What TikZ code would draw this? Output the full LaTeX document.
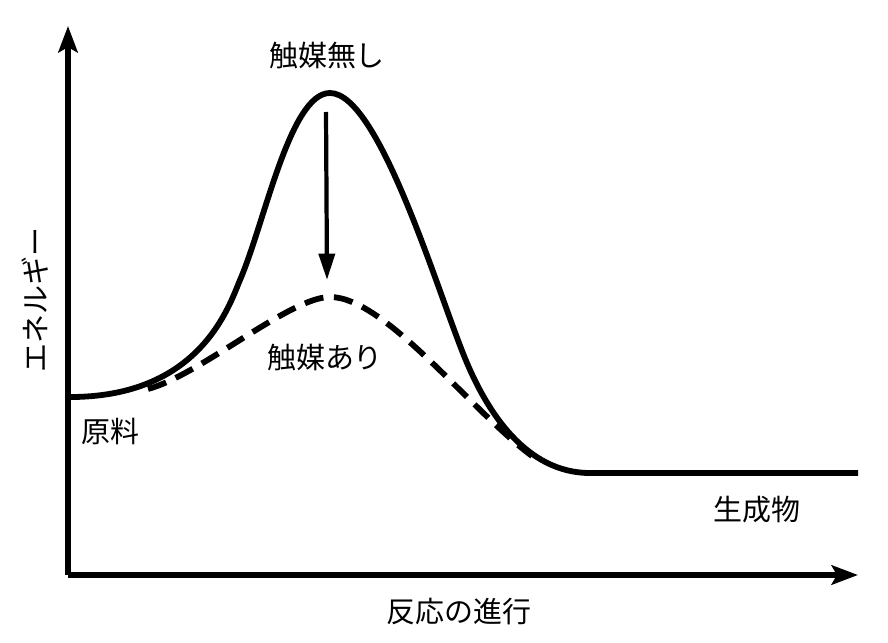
\documentclass[tikz,border=0pt]{standalone}
\usepackage{fontspec}
\setmainfont{Noto Sans CJK JP}
\usepackage{tikz}
\usetikzlibrary{positioning,calc,arrows.meta}

\begin{document}
\begin{tikzpicture}[x=0.02cm, y=-0.02cm,
        axis/.style={line width=3.2pt, -{Stealth[length=15pt, width=11pt, inset=3pt]}},
        curve/.style={line width=3.3pt},
        catcurve/.style={line width=3.3pt, dash pattern=on 11pt off 6pt},
        drop/.style={line width=2.4pt, -{Triangle[length=15pt, width=9pt]}},
        lbl/.style={font=\fontsize{16.5pt}{18pt}\selectfont, inner sep=0pt}]
    \useasboundingbox (0,0) rectangle (888,642);
    \coordinate (O) at (68,575);
    \coordinate (ytip) at (68,26);
    \coordinate (xtip) at (858,575);
    \draw[axis] (O) -- (ytip);
    \draw[axis] (O) -- (xtip);
    \draw[curve] (68,397) .. controls (200,398) and (229,306) .. (240,280)
        .. controls (265,222) and (290,93) .. (330,93)
        .. controls (380,93) and (440,300) .. (467,363)
        .. controls (487,410) and (525,473) .. (590,473) -- (858,473);
    \draw[catcurve] (148,389) .. controls (200,375) and (290,297) .. (330,297)
        .. controls (385,297) and (470,410) .. (532,456);
    \node[lbl] (nocat) at (327,55) {触媒無し};
    \node[lbl] (withcat) at (325,357) {触媒あり};
    \node[lbl] (reactant) at (110,431) {原料};
    \node[lbl] (product) at (757,510) {生成物};
    \node[lbl] (xlabel) at (459,612) {反応の進行};
    \node[lbl, rotate=90] (ylabel) at (35,300) {エネルギー};
    \coordinate (top) at (326,112);
    \coordinate (bottom) at (327,280);
    \draw[drop] (top) -- (bottom);
\end{tikzpicture}
\end{document}
